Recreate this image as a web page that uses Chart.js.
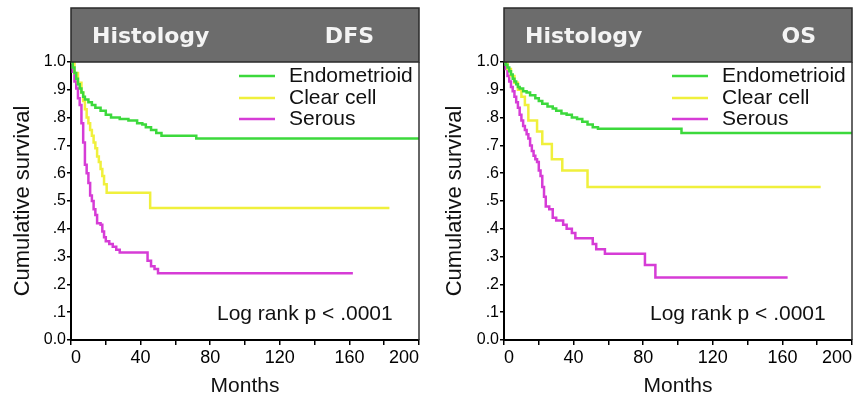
<!DOCTYPE html>
<html>
<head>
<meta charset="utf-8">
<script src="https://cdn.jsdelivr.net/npm/chart.js@4.4.1/dist/chart.umd.min.js"></script>
<style>
  html, body { margin: 0; padding: 0; background: #fff; }
  #wrap { position: relative; width: 856px; height: 403px; overflow: hidden; }
  canvas { position: absolute; top: 0; }
</style>
</head>
<body>
<div id="wrap">
  <canvas id="dfsChart" width="428" height="403" style="left:0"></canvas>
  <canvas id="osChart" width="428" height="403" style="left:428px"></canvas>
</div>
<script>
// Kaplan-Meier curves (months, cumulative survival)
const seriesNames = ["Endometrioid", "Clear cell", "Serous"];

// DFS panel
const dfsEndoMonths = [0, 1, 2, 3, 4, 5, 6, 7, 8, 10, 12, 14, 17, 20, 23, 28, 33, 38, 41, 43, 46, 49, 52, 72, 200];
const dfsEndoSurv = [1, 0.98, 0.96, 0.94, 0.92, 0.905, 0.89, 0.875, 0.865, 0.855, 0.845, 0.835, 0.825, 0.81, 0.8, 0.795, 0.79, 0.78, 0.775, 0.765, 0.755, 0.745, 0.735, 0.725, 0.725];
const dfsClearMonths = [0, 2, 4, 6, 7, 8, 9, 10, 11, 12, 13, 14, 15, 16, 17, 18, 19, 20.5, 45.5, 183];
const dfsClearSurv = [1, 0.96, 0.925, 0.89, 0.86, 0.83, 0.8, 0.78, 0.755, 0.735, 0.71, 0.69, 0.66, 0.64, 0.615, 0.59, 0.56, 0.53, 0.475, 0.475];
const dfsSerousMonths = [0, 1, 2, 3, 4, 5, 6, 7, 8, 9, 10, 11, 12, 13, 14, 15, 17, 18, 19, 20, 22, 24, 26, 28, 44, 46, 48, 50, 162];
const dfsSerousSurv = [1, 0.965, 0.93, 0.905, 0.87, 0.845, 0.78, 0.71, 0.63, 0.6, 0.565, 0.52, 0.5, 0.47, 0.45, 0.42, 0.415, 0.39, 0.37, 0.355, 0.345, 0.335, 0.325, 0.315, 0.285, 0.265, 0.255, 0.24, 0.24];

// OS panel
const osEndoMonths = [0, 1, 2, 3, 4, 5, 6, 7, 8, 9, 11, 13, 15, 18, 20, 22, 25, 28, 30, 33, 36, 39, 42, 45, 48, 51, 54, 102, 200];
const osEndoSurv = [1, 0.99, 0.98, 0.967, 0.955, 0.94, 0.93, 0.92, 0.91, 0.905, 0.895, 0.89, 0.88, 0.87, 0.86, 0.85, 0.84, 0.833, 0.825, 0.815, 0.81, 0.8, 0.795, 0.785, 0.775, 0.765, 0.76, 0.745, 0.745];
const osClearMonths = [0, 2, 4, 6, 8, 10, 12, 14, 19, 22, 27.5, 33.5, 48, 182];
const osClearSurv = [1, 0.975, 0.95, 0.925, 0.9, 0.875, 0.845, 0.79, 0.75, 0.705, 0.65, 0.61, 0.55, 0.55];
const osSerousMonths = [0, 1, 2, 3, 4, 5, 6, 7, 8, 9, 10, 11, 12, 13, 14, 15, 16, 17, 18, 19, 20, 21, 22, 23, 24, 26, 28, 30, 34, 36, 39, 41, 51, 53, 58, 81, 87, 163];
const osSerousSurv = [1, 0.975, 0.95, 0.93, 0.91, 0.895, 0.875, 0.855, 0.835, 0.81, 0.79, 0.77, 0.755, 0.74, 0.725, 0.7, 0.68, 0.663, 0.65, 0.64, 0.61, 0.59, 0.55, 0.515, 0.48, 0.47, 0.44, 0.43, 0.415, 0.4, 0.385, 0.366, 0.345, 0.326, 0.31, 0.27, 0.225, 0.225];

const curveColors = ["#3cd93c", "#f0f03c", "#d63cd6"];
const sansFont = "'Liberation Sans', Arial, sans-serif";

function toPoints(months, surv) {
  return months.map((m, i) => ({ x: m, y: surv[i] }));
}

// header bar, frame, legend and log-rank note
const kmDecor = {
  id: "kmDecor",
  afterDraw(chart, args, opts) {
    const { ctx, chartArea: a } = chart;
    ctx.save();

    // header bar
    ctx.fillStyle = "#6c6c6c";
    ctx.fillRect(a.left, 8, a.right - a.left, a.top - 8);
    ctx.strokeStyle = "#2a2a2a";
    ctx.lineWidth = 1.5;
    ctx.strokeRect(a.left, 8, a.right - a.left, a.top - 8);
    ctx.fillStyle = "#f4f4f4";
    ctx.font = "bold 22px 'DejaVu Sans', Verdana, sans-serif";
    ctx.textBaseline = "alphabetic";
    ctx.textAlign = "left";
    ctx.fillText("Histology", a.left + 21, 43);
    ctx.textAlign = "right";
    ctx.fillText(opts.tag, a.right - opts.tagInset, 43);

    // right frame line
    ctx.strokeStyle = "#333";
    ctx.lineWidth = 1.5;
    ctx.beginPath();
    ctx.moveTo(a.right, a.top);
    ctx.lineTo(a.right, a.bottom);
    ctx.stroke();

    // legend
    ctx.font = "21px " + sansFont;
    ctx.textAlign = "left";
    ctx.textBaseline = "middle";
    const rows = [14, 36, 57];
    seriesNames.forEach((name, i) => {
      const y = a.top + rows[i];
      ctx.strokeStyle = curveColors[i];
      ctx.lineWidth = 2.5;
      ctx.beginPath();
      ctx.moveTo(a.left + 168, y);
      ctx.lineTo(a.left + 204, y);
      ctx.stroke();
      ctx.fillStyle = "#111";
      ctx.fillText(name, a.left + 218, y);
    });

    // log rank note
    ctx.fillText("Log rank p < .0001", a.left + 146, a.bottom - 26);
    ctx.restore();
  }
};

function makeChart(id, tag, tagInset, seriesMonths, seriesSurv, axisWidth, titlePad) {
  const datasets = seriesNames.map((name, i) => ({
    label: name,
    data: toPoints(seriesMonths[i], seriesSurv[i]),
    stepped: true,
    borderColor: curveColors[i],
    borderWidth: 2.5,
    pointRadius: 0,
    fill: false,
  }));

  return new Chart(document.getElementById(id).getContext("2d"), {
    type: "line",
    data: { datasets: datasets },
    plugins: [kmDecor],
    options: {
      responsive: false,
      animation: false,
      layout: { padding: { left: 0, top: 62, right: 428 - axisWidth - 348, bottom: 0 } },
      plugins: {
        legend: { display: false },
        tooltip: { enabled: false },
        kmDecor: { tag: tag, tagInset: tagInset },
      },
      scales: {
        x: {
          type: "linear",
          min: 0,
          max: 200,
          afterFit: (s) => { s.height = 63; },
          border: { display: true, color: "#000", width: 2 },
          grid: { drawOnChartArea: false, drawTicks: true, tickLength: 5, color: "#000", lineWidth: 1.5 },
          ticks: {
            stepSize: 20,
            autoSkip: false,
            maxRotation: 0,
            align: "inner",
            padding: 2,
            color: "#000",
            font: { family: "'Liberation Sans Narrow', " + sansFont, size: 18 },
            callback: (v) => (v % 40 === 0 ? String(v) : ""),
          },
          title: {
            display: true,
            text: "Months",
            color: "#111",
            font: { family: sansFont, size: 21 },
            padding: { top: 0, bottom: 4 },
          },
        },
        y: {
          min: 0,
          max: 1,
          afterFit: (s) => { s.width = axisWidth; },
          border: { display: true, color: "#000", width: 2 },
          grid: { drawOnChartArea: false, drawTicks: true, tickLength: 4, color: "#000", lineWidth: 1.5 },
          ticks: {
            stepSize: 0.1,
            padding: 1,
            color: "#000",
            font: { family: sansFont, size: 16 },
            callback: (v) => {
              const n = Math.round(v * 10);
              if (n === 0) return "0.0";
              if (n === 10) return "1.0";
              return "." + n;
            },
          },
          title: {
            display: true,
            text: "Cumulative survival",
            color: "#111",
            font: { family: sansFont, size: 22 },
            padding: { top: titlePad, bottom: 0 },
          },
        },
      },
    },
  });
}

document.addEventListener("DOMContentLoaded", function () {
  makeChart("dfsChart", "DFS", 45,
    [dfsEndoMonths, dfsClearMonths, dfsSerousMonths],
    [dfsEndoSurv, dfsClearSurv, dfsSerousSurv], 71, 10);
  makeChart("osChart", "OS", 36,
    [osEndoMonths, osClearMonths, osSerousMonths],
    [osEndoSurv, osClearSurv, osSerousSurv], 76, 14);
});
</script>
</body>
</html>
